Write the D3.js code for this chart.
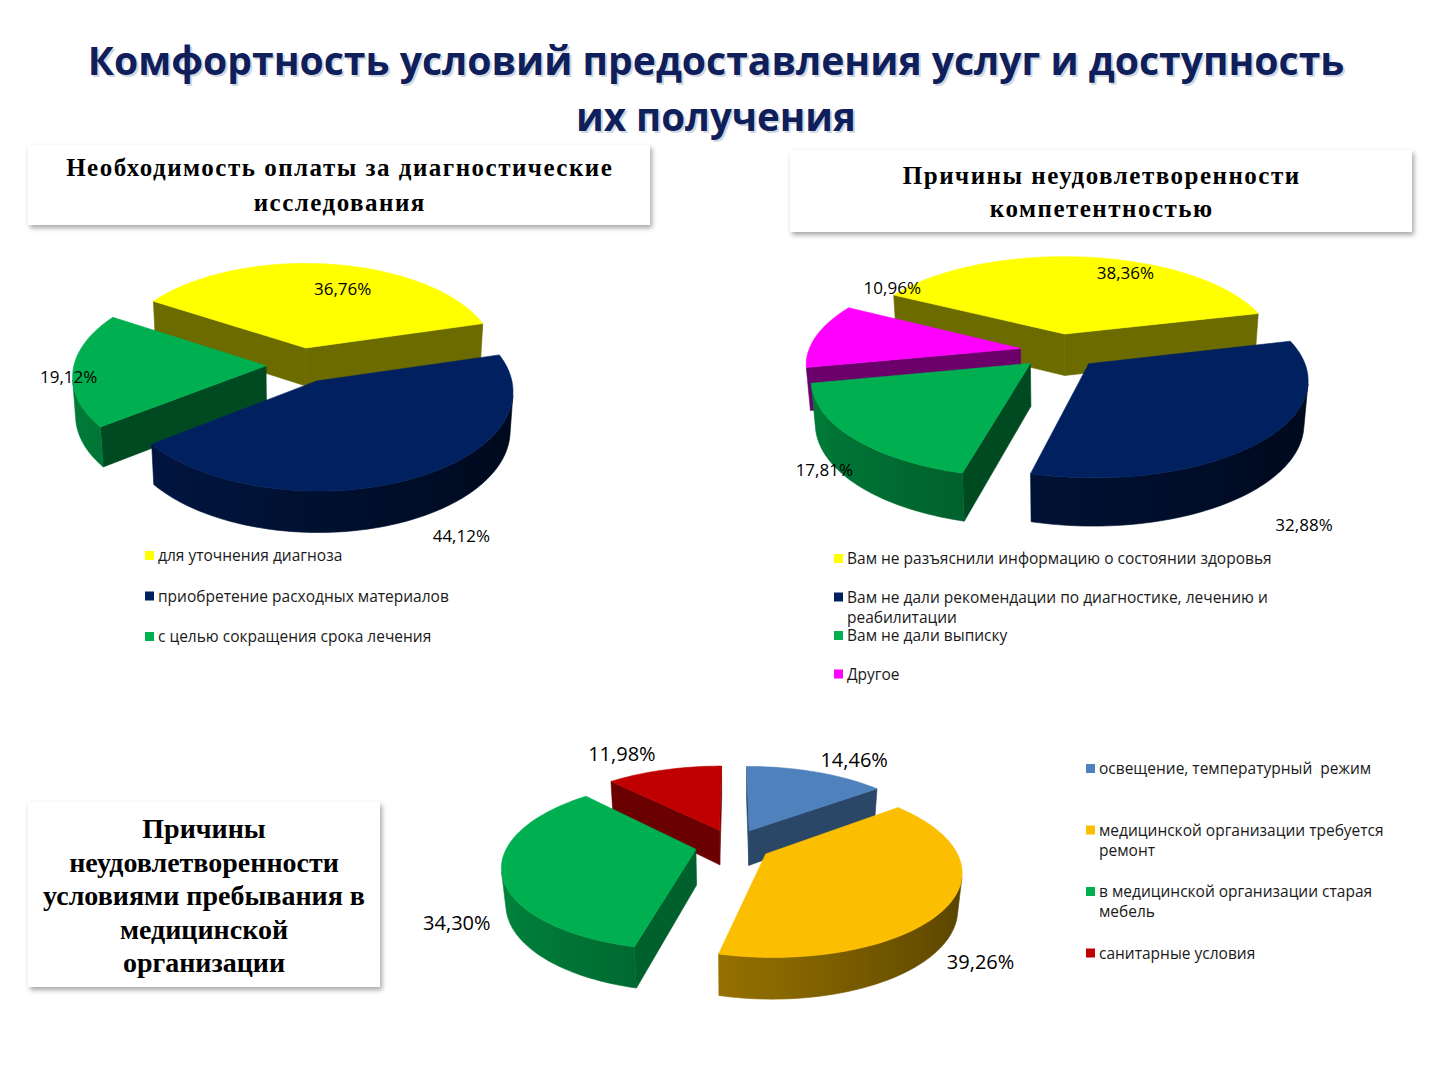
<!DOCTYPE html>
<html>
<head>
<meta charset="utf-8">
<script src="https://cdn.jsdelivr.net/npm/d3@7"></script>
<style>
  body { margin: 0; background: #fff; }
  text { white-space: pre; }
</style>
</head>
<body>
<svg id="slide" width="1440" height="1080"></svg>
<script>

// ---- data ----
var titleLines = ["Комфортность условий предоставления услуг и доступность", "их получения"];

var payTitle = ["Необходимость оплаты за диагностические", "исследования"];
var payCategories = ["для уточнения диагноза", "приобретение расходных материалов", "с целью сокращения срока лечения"];
var payValues = [36.76, 44.12, 19.12];
var payColors = ["#ffff00", "#002060", "#00b050"];

var compTitle = ["Причины неудовлетворенности", "компетентностью"];
var compCategories = ["Вам не разъяснили информацию о состоянии здоровья",
                      "Вам не дали рекомендации по диагностике, лечению и реабилитации",
                      "Вам не дали выписку", "Другое"];
var compValues = [38.36, 32.88, 17.81, 10.96];
var compColors = ["#ffff00", "#002060", "#00b050", "#ff00ff"];

var stayTitle = ["Причины", "неудовлетворенности", "условиями пребывания в", "медицинской", "организации"];
var stayCategories = ["освещение, температурный  режим", "медицинской организации требуется ремонт",
                      "в медицинской организации старая мебель", "санитарные условия"];
var stayValues = [14.46, 39.26, 34.30, 11.98];
var stayColors = ["#4f81bd", "#fbbe00", "#00b050", "#c00000"];

var fmt = function(v) { return d3.format(".2f")(v).replace(".", ",") + "%"; };

var svg = d3.select("#slide");
var defs = svg.append("defs");
defs.append("filter").attr("id", "boxShadow")
    .attr("x", "-10%").attr("y", "-10%").attr("width", "120%").attr("height", "130%")
  .append("feDropShadow")
    .attr("dx", 2).attr("dy", 3).attr("stdDeviation", 2.5)
    .attr("flood-color", "#000").attr("flood-opacity", 0.35);

// ---- title (with a soft offset shadow), size fitted to the slide width ----
var titleWidths = [1257, 280];
var titleSizes = titleLines.map(function(d, i) {
  var probe = svg.append("text")
      .attr("font-family", "'Open Sans', sans-serif")
      .attr("font-weight", 700).attr("font-size", 44).text(d);
  var w = probe.node().getComputedTextLength();
  probe.remove();
  return 44 * titleWidths[i] / w;
});
[["#d3d7e0", 2], ["#0f1f5c", 0]].forEach(function(layer) {
  svg.append("g").selectAll("text").data(titleLines).join("text")
      .attr("x", 716 + layer[1])
      .attr("y", function(d, i) { return 75 + i * 56 + layer[1]; })
      .attr("text-anchor", "middle")
      .attr("font-family", "'Open Sans', sans-serif")
      .attr("font-weight", 700)
      .attr("font-size", function(d, i) { return titleSizes[i]; })
      .attr("fill", layer[0])
      .text(function(d) { return d; });
});

// ---- title boxes ----
function titleBox(x, y, w, h, lines, size, step, first, spacing) {
  var g = svg.append("g");
  g.append("rect").attr("x", x).attr("y", y).attr("width", w).attr("height", h)
      .attr("fill", "#fff").attr("filter", "url(#boxShadow)");
  g.selectAll("text").data(lines).join("text")
      .attr("x", x + w / 2 + spacing / 2)
      .attr("y", function(d, i) { return first + i * step; })
      .attr("text-anchor", "middle")
      .attr("font-family", "'Liberation Serif', 'Times New Roman', serif")
      .attr("font-weight", 700)
      .attr("font-size", size)
      .attr("letter-spacing", spacing)
      .attr("fill", "#000")
      .text(function(d) { return d; });
}
titleBox(28, 145, 622, 80, payTitle, 25, 35, 176, 1.5);
titleBox(790, 150, 622, 82, compTitle, 25, 33, 184, 1.5);
titleBox(28, 802, 352, 185, stayTitle, 28, 33.6, 838, 0);

// ---- 3D exploded pie ----
var gradId = 0;
function pie3d(values, colors, o, labelSpec) {
  var g = svg.append("g");
  var a0 = o.start * Math.PI / 180;
  var arcs = d3.pie().sort(null).startAngle(a0).endAngle(a0 + 2 * Math.PI)(values);
  var sinT = o.tilt, cosT = Math.sqrt(1 - sinT * sinT);
  var R = o.R, H = o.H;

  function proj(p) {
    var d = p[1] * cosT - p[2] * sinT;
    var s = o.persp / (o.persp + d);
    return [o.cx + p[0] * s, o.cy - (p[1] * sinT + p[2] * cosT) * s];
  }
  function shoelace(p) {
    var s = 0;
    for (var i = 0; i < p.length; i++) {
      var a = p[i], b = p[(i + 1) % p.length];
      s += a[0] * b[1] - b[0] * a[1];
    }
    return s;
  }
  function shade(c, t) { return d3.interpolateRgb(c, "#000")(Math.max(0, Math.min(0.9, t))); }
  var line = d3.line();

  var slices = arcs.map(function(a, i) {
    var mid = (a.startAngle + a.endAngle) / 2;
    var ox = o.explode * Math.sin(mid), oy = o.explode * Math.cos(mid);
    var P = function(t, r, z) { return [ox + r * Math.sin(t), oy + r * Math.cos(t), z]; };
    return { a: a, i: i, mid: mid, P: P, back: oy + 0.5 * R * Math.cos(mid) };
  }).sort(function(p, q) { return q.back - p.back; });

  slices.forEach(function(sl) {
    var P = sl.P, s0 = sl.a.startAngle, e0 = sl.a.endAngle, col = colors[sl.i];

    // the two cut faces
    [{ pts: [P(0, 0, -H), P(s0, R, -H), P(s0, R, 0), P(0, 0, 0)] },
     { pts: [P(e0, R, -H), P(0, 0, -H), P(0, 0, 0), P(e0, R, 0)] }].forEach(function(f) {
      var sp = f.pts.map(proj);
      if (shoelace(sp) <= 0) return;
      var c = shade(col, o.radialShade);
      g.append("path").attr("d", line(sp) + "Z")
          .attr("fill", c).attr("stroke", c).attr("stroke-width", 0.6);
    });

    // outer curved wall: collect visible runs, fill each with a horizontal gradient
    var steps = Math.max(2, Math.ceil((e0 - s0) / (Math.PI / 120)));
    var runs = [], run = null;
    for (var k = 0; k < steps; k++) {
      var t1 = s0 + (e0 - s0) * k / steps, t2 = s0 + (e0 - s0) * (k + 1) / steps;
      var sp = [P(t1, R, -H), P(t2, R, -H), P(t2, R, 0), P(t1, R, 0)].map(proj);
      if (shoelace(sp) > 0) {
        if (!run) { run = [t1]; runs.push(run); }
        run.push(t2);
      } else run = null;
    }
    runs.forEach(function(ts) {
      var bottom = ts.map(function(t) { return proj(P(t, R, -H)); });
      var topEdge = ts.map(function(t) { return proj(P(t, R, 0)); }).reverse();
      var xs = bottom.map(function(p) { return p[0]; });
      var x0 = d3.min(xs), x1 = d3.max(xs);
      var id = "wall" + (gradId++);
      var grad = defs.append("linearGradient").attr("id", id)
          .attr("gradientUnits", "userSpaceOnUse")
          .attr("x1", x0).attr("x2", x1).attr("y1", 0).attr("y2", 0);
      var stops = ts.map(function(t, j) {
        return { off: x1 > x0 ? (xs[j] - x0) / (x1 - x0) : 0,
                 c: shade(col, o.wallShade + o.wallK * Math.sin(t)) };
      }).sort(function(p, q) { return p.off - q.off; });
      grad.selectAll("stop").data(stops).join("stop")
          .attr("offset", function(d) { return d.off; })
          .attr("stop-color", function(d) { return d.c; });
      g.append("path").attr("d", line(bottom.concat(topEdge)) + "Z")
          .attr("fill", "url(#" + id + ")").attr("stroke", "url(#" + id + ")").attr("stroke-width", 0.6);
    });

    // top face
    var top = [P(0, 0, 0)];
    for (var k2 = 0; k2 <= steps; k2++) top.push(P(s0 + (e0 - s0) * k2 / steps, R, 0));
    g.append("path").attr("d", line(top.map(proj)) + "Z")
        .attr("fill", col).attr("stroke", col).attr("stroke-width", 0.6);
  });

  slices.forEach(function(sl) {
    var ls = labelSpec[sl.i];
    var pt = proj(sl.P(sl.mid + ls[0] * Math.PI / 180, ls[1] * R, ls[2] * H));
    g.append("text")
        .attr("x", pt[0]).attr("y", pt[1])
        .attr("text-anchor", "middle")
        .attr("dominant-baseline", "central")
        .attr("font-family", "'Open Sans', sans-serif")
        .attr("font-size", o.labelSize)
        .attr("fill", "#000")
        .text(fmt(values[sl.i]));
  });
}

// ---- legend ----
function legend(categories, colors, x, y0, step, maxWidth, size) {
  var g = svg.append("g");
  categories.forEach(function(cat, i) {
    var y = y0 + i * step;
    g.append("rect").attr("x", x - 13).attr("y", y - 10).attr("width", 9).attr("height", 9)
        .attr("fill", colors[i]);
    var t = g.append("text").attr("x", x).attr("y", y)
        .attr("font-family", "'Open Sans', sans-serif")
        .attr("font-size", size).attr("fill", "#1a1a1a");
    var words = cat.split(" "), cur = "", lineNo = 0;
    var ts = t.append("tspan").attr("x", x).attr("y", y);
    words.forEach(function(w) {
      var test = cur === "" ? w : cur + " " + w;
      ts.text(test);
      if (ts.node().getComputedTextLength() > maxWidth && cur !== "") {
        ts.text(cur);
        lineNo++;
        ts = t.append("tspan").attr("x", x).attr("y", y + lineNo * 20).text(w);
        cur = w;
      } else {
        cur = test;
      }
    });
  });
}

pie3d(payValues, payColors,
  { cx: 301, cy: 365, R: 192, tilt: 0.5, persp: 1700, H: 45, explode: 35, start: -58,
    wallShade: 0.5, wallK: 0.2, radialShade: 0.58, labelSize: 17 },
  [[9, 0.71, 0], [-7, 1.22, -1], [-4, 1.02, 0]]);
pie3d(compValues, compColors,
  { cx: 1060, cy: 351, R: 212, tilt: 0.44, persp: 1300, H: 48, explode: 40, start: -62,
    wallShade: 0.5, wallK: 0.2, radialShade: 0.58, labelSize: 17 },
  [[16, 0.84, 0], [4, 1.3, -1], [1.5, 1.13, -0.5], [38, 1.0, 0]]);
pie3d(stayValues, stayColors,
  { cx: 733, cy: 845, R: 188, tilt: 0.43, persp: 930, H: 40, explode: 38, start: 0,
    wallShade: 0.45, wallK: 0.2, radialShade: 0.45, labelSize: 20 },
  [[6, 1.34, 0], [2.7, 1.2, -1], [-12.7, 1.26, -0.5], [-7, 1.4, 0]]);

legend(payCategories, payColors, 158, 561, 40.5, 420, 15.5);
legend(compCategories, compColors, 847, 564, 38.5, 440, 15.5);
legend(stayCategories, stayColors, 1099, 774, 61.5, 300, 15.5);

</script>
</body>
</html>
